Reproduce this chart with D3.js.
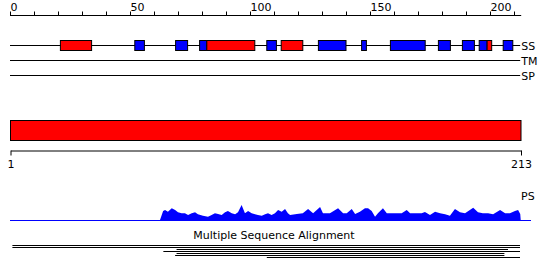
<!DOCTYPE html>
<html>
<head>
<meta charset="utf-8">
<script src="https://cdn.jsdelivr.net/npm/d3@7"></script>
<style>
  body { margin: 0; background: #fff; }
  svg { display: block; font-family: "DejaVu Sans", sans-serif; }
</style>
</head>
<body>
<div id="chart"></div>
<script>
// sequence length and ruler ticks
var seqLength = 213;
var rulerTicks = d3.range(0, 211, 10);
var rulerLabels = [0, 50, 100, 150, 200];

// secondary structure elements (residue start, end, type)
var ssStart = [21, 52, 69, 79, 82, 107, 113, 128.5, 146.5, 158.5, 178.5, 188.5, 195.5, 198.8, 205.5];
var ssEnd   = [34, 56, 74, 82, 102, 111, 122, 140, 148.5, 173, 183.5, 193.5, 198.8, 200.7, 209.5];
var ssType  = ["E", "H", "H", "H", "E", "H", "E", "H", "H", "H", "H", "H", "H", "E", "H"];

var trackLabels = ["SS", "TM", "SP"];

// domain track
var domainStart = [1];
var domainEnd = [213];
var domainTicks = [1, 213];

// PS profile (residue, score)
var psPos = [62.5, 63.8, 64.6, 65.8, 67.4, 68.8, 70, 71.5, 72.9, 74.2, 75.7, 77.1, 78.3, 80.4, 82.5,
  84, 85.4, 86.7, 88.2, 89.6, 90.8, 92.4, 93.8, 95, 96.5, 97.9, 99.2, 100.7, 102.1, 103.3, 104.9,
  106.3, 107.5, 109, 110.4, 111.7, 113.2, 114.6, 115.8, 116.7, 119.5, 122, 124.2, 126.3, 129.2,
  130.4, 133.3, 136.7, 138.8, 140.3, 142.4, 143.8, 145.8, 147.9, 149.2, 150.7, 152.1, 153.3, 155.4,
  157, 159, 161.1, 163.2, 165.3, 166.7, 168.8, 171.5, 172.9, 175, 177.1, 179.2, 181.3, 183.3, 185.4,
  187.5, 189.6, 193, 195, 197, 199.2, 201.3, 204.2, 206.3, 208.3, 210.4, 211.7, 212.6, 212.8];
var psVal = [0, 9, 10, 8.3, 11.7, 10, 7.7, 6.7, 6.7, 5, 6.7, 7.7, 5.7, 4.3, 3.3,
  5, 6.7, 6, 5, 7.7, 9, 6.7, 5.7, 7.7, 15, 6.7, 9, 6.7, 5.7, 5, 4.3,
  5.7, 6.7, 5, 6.7, 10, 8.3, 11, 6.7, 5, 6, 6.7, 11, 6.7, 13,
  6.7, 6.7, 11.7, 6.7, 6.7, 11, 6, 8.3, 11.7, 11.7, 9, 3.3, 6.7, 11.7,
  6.7, 6.7, 6.7, 6.7, 10, 6.7, 6.7, 6.7, 8, 5, 8.3, 6.7, 5.7, 4.3, 11,
  7.7, 6.7, 12.3, 7.7, 6.7, 6.7, 5.7, 10, 6.7, 6.7, 9, 10, 6, 0];

// multiple sequence alignment hits
var alnStart = [1, 1, 69.4, 63.9, 69.4, 68.8, 107];
var alnEnd   = [212.5, 212.5, 207.5, 212.5, 206, 206, 212.5];

var width = 550, height = 279;
var colors = { H: "#0000ff", E: "#ff0000" };

var svg = d3.select("#chart").append("svg")
    .attr("width", width)
    .attr("height", height);

var x = d3.scaleLinear().domain([0, seqLength]).range([10, 521.2]);
var xd = d3.scaleLinear().domain([1, seqLength]).range([10, 520.5]);

// top ruler
var rulerAxis = d3.axisTop(x)
    .tickValues(rulerTicks)
    .tickSize(4)
    .tickSizeOuter(0)
    .tickFormat(function (d) { return rulerLabels.indexOf(d) >= 0 ? d : ""; });

var ruler = svg.append("g")
    .attr("transform", "translate(0,15.5)")
    .call(rulerAxis);
ruler.select(".domain").attr("d", "M" + x(0) + ",0H" + x(seqLength)).attr("stroke", "#000");
ruler.selectAll(".tick line").attr("stroke", "#000");
ruler.selectAll(".tick text")
    .attr("text-anchor", "start")
    .attr("x", 0)
    .attr("y", -5)
    .attr("dy", 0)
    .attr("font-size", "11px")
    .attr("font-family", "DejaVu Sans, sans-serif")
    .attr("fill", "#000");

// SS / TM / SP tracks
var trackY = d3.scalePoint().domain(trackLabels).range([45.5, 75.5]);

svg.selectAll(".track")
    .data(trackLabels)
    .enter().append("line")
    .attr("x1", x(0))
    .attr("x2", x(seqLength) - 1)
    .attr("y1", function (d) { return trackY(d); })
    .attr("y2", function (d) { return trackY(d); })
    .attr("stroke", "#000");

svg.selectAll(".trackLabel")
    .data(trackLabels)
    .enter().append("text")
    .attr("x", x(seqLength))
    .attr("y", function (d) { return trackY(d) + 4; })
    .attr("font-size", "11px")
    .text(function (d) { return d; });

var ssData = ssStart.map(function (s, i) { return { start: s, end: ssEnd[i], type: ssType[i] }; });
svg.selectAll(".ss")
    .data(ssData)
    .enter().append("rect")
    .attr("x", function (d) { return x(d.start); })
    .attr("width", function (d) { return x(d.end) - x(d.start); })
    .attr("y", trackY("SS") - 5)
    .attr("height", 10)
    .attr("fill", function (d) { return colors[d.type]; })
    .attr("stroke", "#000");

// domain bar
svg.selectAll(".domainBar")
    .data(domainStart)
    .enter().append("rect")
    .attr("x", function (d) { return xd(d) + 0.5; })
    .attr("width", function (d, i) { return xd(domainEnd[i]) - xd(d); })
    .attr("y", 120.5)
    .attr("height", 20)
    .attr("fill", "#ff0000")
    .attr("stroke", "#000");

var domAxis = d3.axisBottom(xd)
    .tickValues(domainTicks)
    .tickSize(5)
    .tickSizeOuter(0)
    .tickFormat(d3.format("d"));
var dg = svg.append("g")
    .attr("transform", "translate(0.5,150.5)")
    .call(domAxis);
dg.select(".domain").attr("stroke", "#000");
dg.selectAll(".tick line").attr("stroke", "#000");
dg.selectAll(".tick text")
    .attr("y", 10)
    .attr("font-size", "11px")
    .attr("font-family", "DejaVu Sans, sans-serif")
    .attr("fill", "#000");

// PS profile
var yPs = d3.scaleLinear().domain([0, 20]).range([220, 200]);
var psData = psPos.map(function (p, i) { return { pos: p, val: psVal[i] }; });
var area = d3.area()
    .x(function (d) { return x(d.pos); })
    .y0(yPs(0))
    .y1(function (d) { return yPs(d.val); });

svg.append("path")
    .datum(psData)
    .attr("d", area)
    .attr("fill", "#0000ff");

svg.append("line")
    .attr("x1", x(0))
    .attr("x2", 531)
    .attr("y1", 220.5)
    .attr("y2", 220.5)
    .attr("stroke", "#0000ff");

svg.append("text")
    .attr("x", 521)
    .attr("y", 200)
    .attr("font-size", "11px")
    .text("PS");

// multiple sequence alignment
svg.append("text")
    .attr("x", 274)
    .attr("y", 239)
    .attr("text-anchor", "middle")
    .attr("font-size", "11px")
    .text("Multiple Sequence Alignment");

var alnY = d3.scaleLinear().domain([0, alnStart.length - 1]).range([245.5, 257.5]);
svg.selectAll(".aln")
    .data(alnStart)
    .enter().append("line")
    .attr("x1", function (d) { return x(d); })
    .attr("x2", function (d, i) { return x(alnEnd[i]); })
    .attr("y1", function (d, i) { return alnY(i); })
    .attr("y2", function (d, i) { return alnY(i); })
    .attr("stroke", "#000");
</script>
</body>
</html>
